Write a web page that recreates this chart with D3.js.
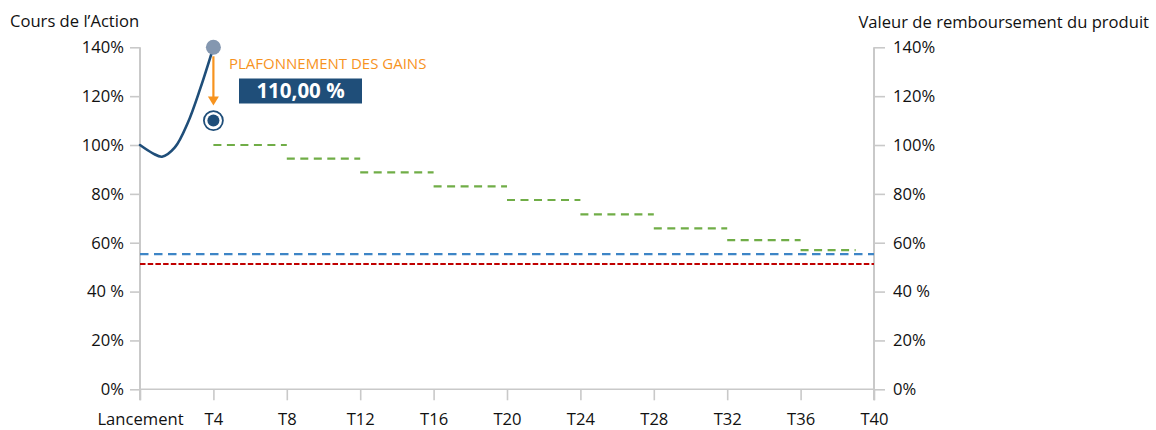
<!DOCTYPE html>
<html lang="fr">
<head>
<meta charset="utf-8">
<script src="https://cdn.jsdelivr.net/npm/d3@7"></script>
<style>
  html, body { margin: 0; padding: 0; background: #ffffff; }
  svg { display: block; font-family: "Open Sans", "Noto Sans", sans-serif; }
</style>
</head>
<body>
<svg id="chart" width="1156" height="430"></svg>
<script>
// Quarters on the horizontal axis and their labels
const quarterTicks = [0, 4, 8, 12, 16, 20, 24, 28, 32, 36, 40];
const quarterLabels = ["Lancement", "T4", "T8", "T12", "T16", "T20", "T24", "T28", "T32", "T36", "T40"];

// Percent ticks shared by both vertical axes
const pctTicks = [0, 20, 40, 60, 80, 100, 120, 140];
const pctLabels = ["0%", "20%", "40 %", "60%", "80%", "100%", "120%", "140%"];

// Share price path from launch to the first observation (T4)
const stockQuarter = [0, 0.7, 1.2, 1.9, 2.6, 3.3, 4];
const stockValue = [100, 96.6, 95.2, 99, 109, 123.5, 140];

// Early-redemption thresholds per observation period
const stepStart = [4, 8, 12, 16, 20, 24, 28, 32, 36];
const stepEnd = [8, 12, 16, 20, 24, 28, 32, 36, 39];
const stepValue = [100, 94.4, 88.8, 83.1, 77.5, 71.6, 65.9, 61.1, 57.0];

// Horizontal barriers
const couponBarrier = 55.3;
const capitalBarrier = 51.3;

// Gain cap at the first observation
const capQuarter = 4;
const observedValue = 140;
const capValue = 110;
const capLabel = "110,00 %";
const capTitle = "PLAFONNEMENT DES GAINS";

const svg = d3.select("#chart");

const x = d3.scaleLinear().domain([0, 40]).range([140, 874]);
const y = d3.scaleLinear().domain([0, 140]).range([389.3, 47.3]);

const axisColor = "#c9c9c9";
const textColor = "#111111";
const navy = "#1f4e79";
const orange = "#f7931e";
const fontSize = 16.6;

// Axis titles
svg.append("text")
  .attr("x", 10).attr("y", 27)
  .attr("font-size", fontSize).attr("fill", textColor)
  .text("Cours de l\u2019Action");
svg.append("text")
  .attr("x", 1149).attr("y", 28)
  .attr("text-anchor", "end")
  .attr("font-size", fontSize).attr("fill", textColor)
  .text("Valeur de remboursement du produit");

// Left axis
const leftAxis = svg.append("g")
  .attr("transform", `translate(${x(0)},0)`)
  .call(d3.axisLeft(y).tickValues(pctTicks).tickSize(10).tickPadding(6)
    .tickFormat((d, i) => pctLabels[i]));

// Right axis
const rightAxis = svg.append("g")
  .attr("transform", `translate(${x(40)},0)`)
  .call(d3.axisRight(y).tickValues(pctTicks).tickSize(11).tickPadding(8)
    .tickFormat((d, i) => pctLabels[i]));

// Bottom axis
const bottomAxis = svg.append("g")
  .attr("transform", `translate(0,${y(0)})`)
  .call(d3.axisBottom(x).tickValues(quarterTicks).tickSize(11).tickPadding(6)
    .tickFormat((d, i) => quarterLabels[i]));

[leftAxis, rightAxis, bottomAxis].forEach(g => {
  g.select(".domain").remove();
  g.selectAll(".tick line").attr("stroke", axisColor).attr("stroke-width", 1.6);
  g.selectAll(".tick text").attr("font-size", fontSize).attr("fill", textColor)
    .attr("font-family", "\"Open Sans\", \"Noto Sans\", sans-serif");
});
bottomAxis.selectAll(".tick text").attr("dy", null).attr("y", 35.5);

// Axis lines
const axisBottomY = y(0) + 11;
svg.append("line")
  .attr("x1", x(0)).attr("x2", x(0)).attr("y1", y(140)).attr("y2", axisBottomY)
  .attr("stroke", axisColor).attr("stroke-width", 2);
svg.append("line")
  .attr("x1", x(40)).attr("x2", x(40)).attr("y1", y(140)).attr("y2", axisBottomY)
  .attr("stroke", axisColor).attr("stroke-width", 2);
svg.append("line")
  .attr("x1", x(0)).attr("x2", x(40)).attr("y1", y(0)).attr("y2", y(0))
  .attr("stroke", axisColor).attr("stroke-width", 1.6);

// Barriers
svg.append("line")
  .attr("x1", x(0)).attr("x2", x(40))
  .attr("y1", y(capitalBarrier)).attr("y2", y(capitalBarrier))
  .attr("stroke", "#c00000").attr("stroke-width", 2.2)
  .attr("stroke-dasharray", "5.5,2.2");
svg.append("line")
  .attr("x1", x(0)).attr("x2", x(40))
  .attr("y1", y(couponBarrier)).attr("y2", y(couponBarrier))
  .attr("stroke", "#3d85c6").attr("stroke-width", 2.2)
  .attr("stroke-dasharray", "8.5,5.5");

// Redemption thresholds
svg.append("g").selectAll("line")
  .data(stepValue)
  .join("line")
  .attr("x1", (d, i) => x(stepStart[i]))
  .attr("x2", (d, i) => x(stepEnd[i]))
  .attr("y1", d => y(d)).attr("y2", d => y(d))
  .attr("stroke", "#70ad47").attr("stroke-width", 2.2)
  .attr("stroke-dasharray", "8,5.5");

// Share price curve
const pts = stockQuarter.map((q, i) => [q, stockValue[i]]);
svg.append("path")
  .datum(pts)
  .attr("fill", "none")
  .attr("stroke", navy)
  .attr("stroke-width", 2.6)
  .attr("stroke-linecap", "round")
  .attr("d", d3.line().x(d => x(d[0])).y(d => y(d[1])).curve(d3.curveCatmullRom.alpha(0.5)));

// Observed level marker
svg.append("circle")
  .attr("cx", x(capQuarter)).attr("cy", y(observedValue)).attr("r", 7.5)
  .attr("fill", "#8497b0");

// Cap arrow
const arrowTop = y(observedValue) + 9;
const arrowTip = y(capValue) - 15;
svg.append("line")
  .attr("x1", x(capQuarter)).attr("x2", x(capQuarter))
  .attr("y1", arrowTop).attr("y2", arrowTip - 6)
  .attr("stroke", orange).attr("stroke-width", 2.2);
svg.append("path")
  .attr("d", `M${x(capQuarter) - 5.5},${arrowTip - 9} L${x(capQuarter) + 5.5},${arrowTip - 9} L${x(capQuarter)},${arrowTip} Z`)
  .attr("fill", orange);

// Capped value marker
svg.append("circle")
  .attr("cx", x(capQuarter)).attr("cy", y(capValue)).attr("r", 9.5)
  .attr("fill", "#ffffff").attr("stroke", navy).attr("stroke-width", 1.8);
svg.append("circle")
  .attr("cx", x(capQuarter)).attr("cy", y(capValue)).attr("r", 6)
  .attr("fill", navy);

// Cap annotation
svg.append("text")
  .attr("x", 229).attr("y", 69)
  .attr("font-size", 15).attr("fill", orange)
  .text(capTitle);
svg.append("rect")
  .attr("x", 239).attr("y", 78.5).attr("width", 123).attr("height", 25)
  .attr("fill", navy);
svg.append("text")
  .attr("x", 300.5).attr("y", 98)
  .attr("text-anchor", "middle")
  .attr("font-size", 20.5).attr("font-weight", "bold").attr("fill", "#ffffff")
  .text(capLabel);
</script>
</body>
</html>
